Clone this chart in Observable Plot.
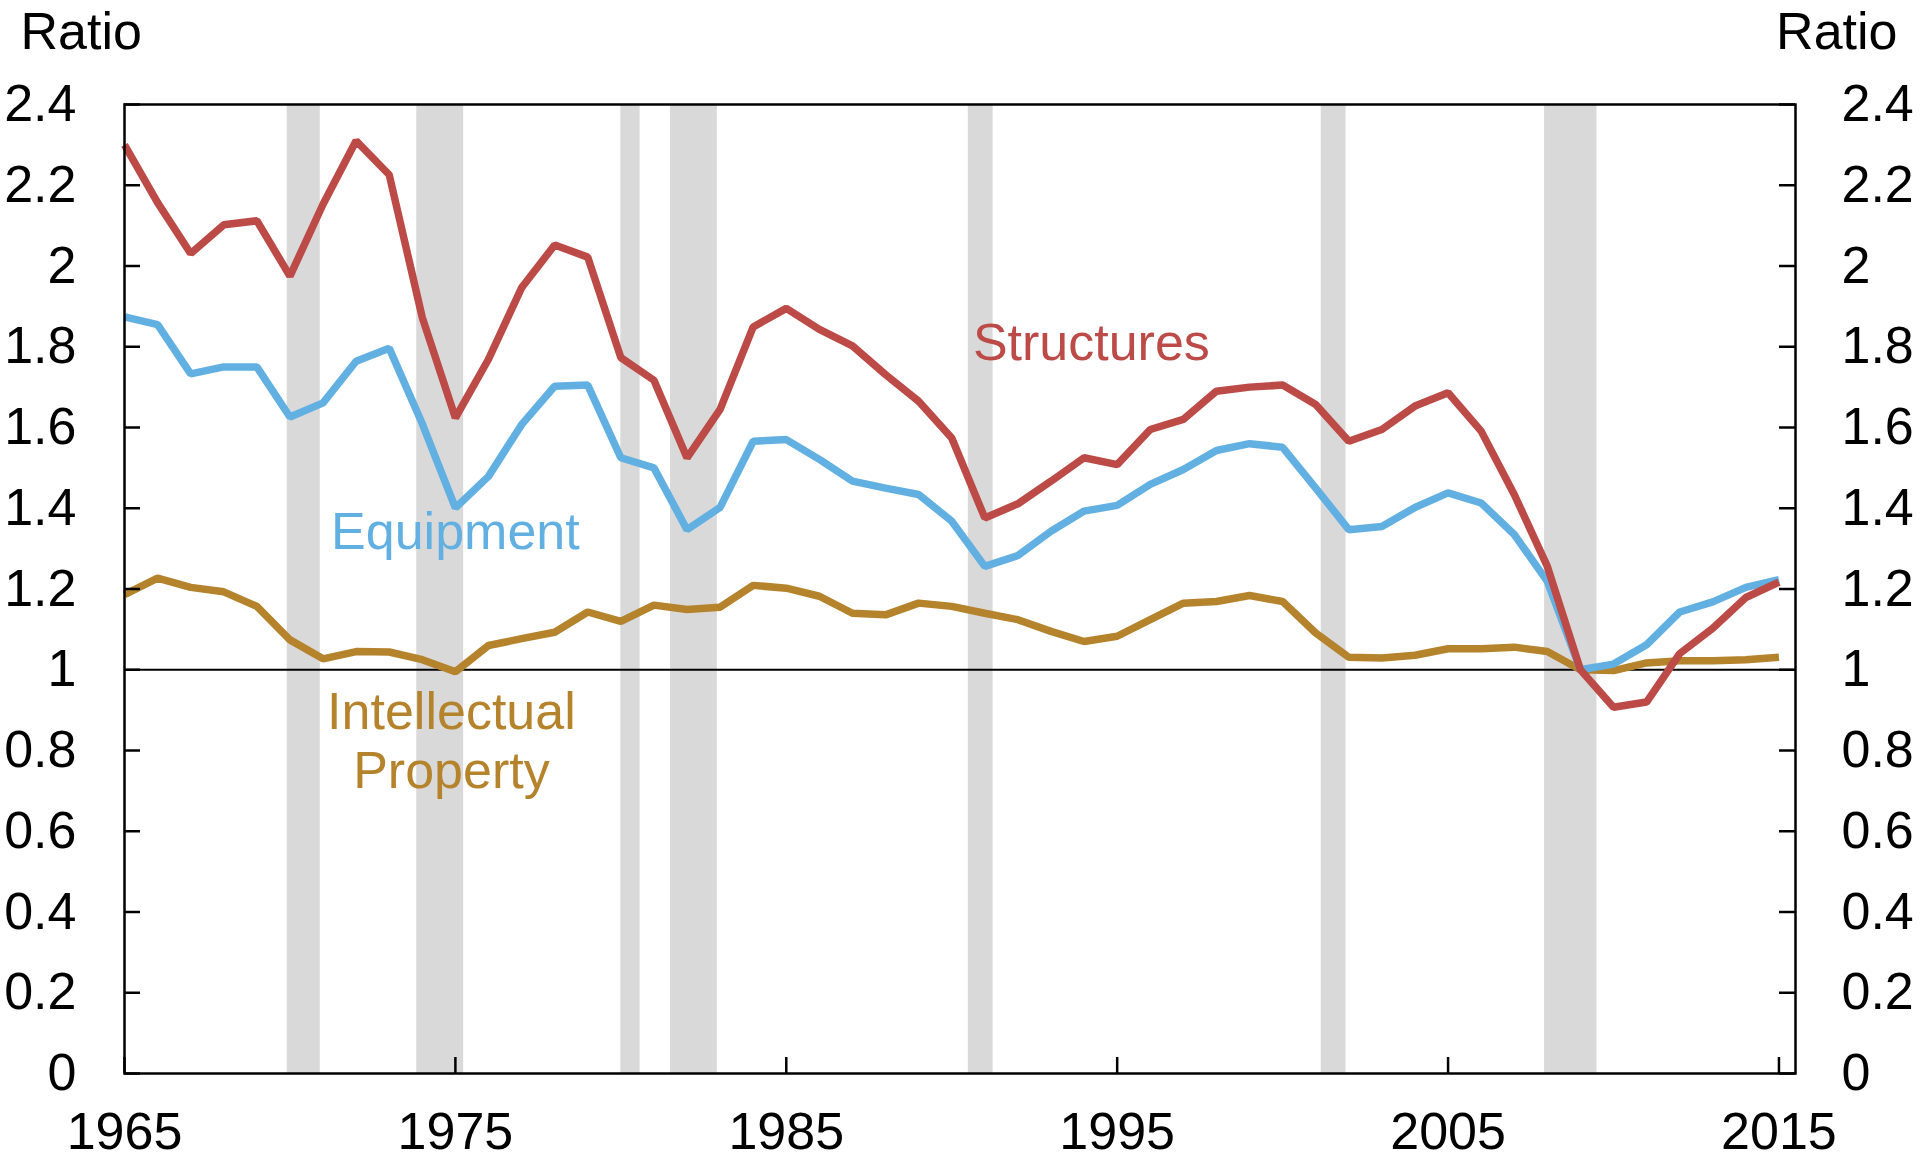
<!DOCTYPE html>
<html>
<head>
<meta charset="utf-8">
<script src="https://cdn.jsdelivr.net/npm/d3@7"></script>
<script src="https://cdn.jsdelivr.net/npm/@observablehq/plot@0.6"></script>
<style>
  html, body { margin: 0; padding: 0; background: #ffffff; }
  #chart svg { display: block; }
</style>
</head>
<body>
<div id="chart"></div>
<script>
const years = [1965,1966,1967,1968,1969,1970,1971,1972,1973,1974,1975,1976,1977,1978,1979,1980,1981,1982,1983,1984,1985,1986,1987,1988,1989,1990,1991,1992,1993,1994,1995,1996,1997,1998,1999,2000,2001,2002,2003,2004,2005,2006,2007,2008,2009,2010,2011,2012,2013,2014,2015];

const structures = [2.30,2.157,2.031,2.102,2.112,1.975,2.153,2.31,2.226,1.872,1.624,1.769,1.946,2.052,2.022,1.773,1.717,1.525,1.645,1.849,1.895,1.843,1.802,1.731,1.665,1.574,1.376,1.411,1.467,1.525,1.508,1.595,1.620,1.690,1.700,1.705,1.657,1.566,1.595,1.653,1.686,1.591,1.434,1.256,1.000,0.907,0.920,1.040,1.103,1.179,1.217];

const equipment = [1.874,1.855,1.733,1.750,1.750,1.626,1.661,1.764,1.796,1.609,1.401,1.479,1.607,1.702,1.705,1.525,1.500,1.347,1.402,1.566,1.570,1.521,1.467,1.450,1.434,1.368,1.256,1.283,1.343,1.393,1.407,1.459,1.496,1.543,1.560,1.551,1.450,1.347,1.355,1.402,1.438,1.413,1.335,1.219,1.000,1.014,1.062,1.143,1.168,1.204,1.223];

const intellectual = [1.186,1.227,1.204,1.193,1.157,1.074,1.027,1.045,1.044,1.025,0.995,1.060,1.077,1.093,1.143,1.120,1.160,1.149,1.155,1.209,1.202,1.182,1.140,1.136,1.165,1.157,1.140,1.124,1.095,1.070,1.083,1.124,1.165,1.169,1.184,1.169,1.091,1.031,1.029,1.036,1.052,1.052,1.056,1.045,1.000,0.998,1.017,1.022,1.022,1.025,1.031];

// NBER recessions (decimal years)
const recessionStart = [1969.917, 1973.833, 1980.0, 1981.5, 1990.5, 2001.167, 2007.917];
const recessionEnd   = [1970.917, 1975.25, 1980.583, 1982.917, 1991.25, 2001.917, 2009.5];

const yTicks = [0, 0.2, 0.4, 0.6, 0.8, 1, 1.2, 1.4, 1.6, 1.8, 2, 2.2, 2.4];
const xTicks = [1965, 1975, 1985, 1995, 2005, 2015];

const seriesNames = ["Intellectual Property", "Equipment", "Structures"];
const seriesColors = ["#b5832c", "#62b0e2", "#bc4a47"];
const seriesValues = [intellectual, equipment, structures];

// label anchors (data coordinates: year, ratio)
const labelText = ["Intellectual\nProperty", "Equipment", "Structures"];
const labelYear = [1974.88, 1975.0, 1994.22];
const labelValue = [0.708, 1.298, 1.766];

const W = 1920, H = 1160;
const mL = 124, mR = 125, mT = 104, mB = 87;
const plotW = W - mL - mR, plotH = H - mT - mB;
const FONT = "'Liberation Sans', Arial, Helvetica, sans-serif";
const FS = 52;

const recessions = recessionStart.map((s, i) => ({start: s, end: recessionEnd[i]}));
const fmt = d => String(+d.toFixed(1));

const lineMarks = seriesNames.map((name, i) =>
  Plot.line(years.map((yr, j) => ({year: yr, value: seriesValues[i][j]})), {
    x: "year", y: "value", stroke: seriesColors[i], strokeWidth: 7.5,
    strokeLinejoin: "miter", strokeLinecap: "butt"
  })
);

const labelMarks = seriesNames.map((name, i) =>
  Plot.text([{x: labelYear[i], y: labelValue[i], t: labelText[i]}], {
    x: "x", y: "y", text: "t", fill: seriesColors[i], fontSize: FS,
    textAnchor: "middle", lineAnchor: "bottom", lineHeight: 1.125
  })
);

const chart = Plot.plot({
  width: W, height: H,
  marginLeft: mL, marginRight: mR, marginTop: mT, marginBottom: mB,
  style: {fontFamily: FONT, fontSize: FS + "px", background: "#ffffff", color: "#000000"},
  x: {domain: [1965, 2015.5]},
  y: {domain: [0, 2.4]},
  marks: [
    Plot.rect(recessions, {x1: "start", x2: "end", fill: "#d9d9d9"}),
    Plot.ruleY([1], {stroke: "#000000", strokeWidth: 2}),
    ...lineMarks,
    Plot.axisY(yTicks, {anchor: "left", tickSize: 0, tickPadding: 48, tickFormat: fmt, label: null, fontSize: FS}),
    Plot.axisY(yTicks, {anchor: "right", tickSize: 0, tickPadding: 46, tickFormat: fmt, label: null, fontSize: FS}),
    Plot.tickY(yTicks, {y: d => d, insetRight: plotW - 16, stroke: "#000000", strokeWidth: 2.5}),
    Plot.tickY(yTicks, {y: d => d, insetLeft: plotW - 16, stroke: "#000000", strokeWidth: 2.5}),
    Plot.axisX(xTicks, {anchor: "bottom", tickSize: 0, tickPadding: 39, tickFormat: d => String(d), label: null, fontSize: FS}),
    Plot.tickX(xTicks, {x: d => d, insetTop: plotH - 16, stroke: "#000000", strokeWidth: 2.5}),
    Plot.frame({stroke: "#000000", strokeWidth: 2.5}),
    Plot.text(["Ratio"], {frameAnchor: "top-left", text: d => d, textAnchor: "start", lineAnchor: "bottom", dx: -104, dy: -56, fontSize: FS, fill: "#000000"}),
    Plot.text(["Ratio"], {frameAnchor: "top-right", text: d => d, textAnchor: "end", lineAnchor: "bottom", dx: 102, dy: -56, fontSize: FS, fill: "#000000"}),
    ...labelMarks
  ]
});

document.getElementById("chart").appendChild(chart);
</script>
</body>
</html>
